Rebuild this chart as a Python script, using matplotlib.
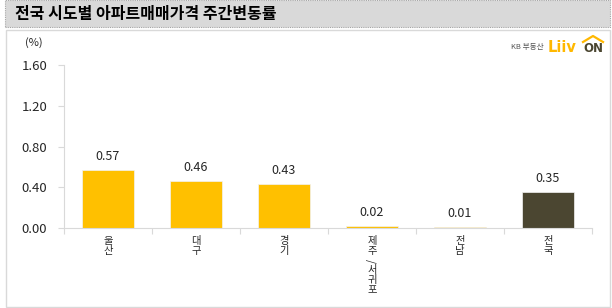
import matplotlib.pyplot as plt
from matplotlib.patches import Rectangle

plt.rcParams["font.family"] = ["Noto Sans CJK KR", "DejaVu Sans"]

# weekly change of apartment sale prices by region (%)
regions = ["울산", "대구", "경기", "제주/서귀포", "전남", "전국"]
changes = [0.57, 0.46, 0.43, 0.02, 0.01, 0.35]
bar_colors = ["#FFC000", "#FFC000", "#FFC000", "#FFC000", "#FFC000", "#4B4631"]
yticks = [0.0, 0.4, 0.8, 1.2, 1.6]

W, H = 612, 308
fig = plt.figure(figsize=(W / 100, H / 100), dpi=100)
fig.patch.set_facecolor("white")

# header band and chart panel (kept behind the axes)
fig.patches.append(Rectangle((5 / W, 1 - 27 / H), 605 / W, 27 / H, transform=fig.transFigure,
                             facecolor="#d9d9d9", edgecolor="#a6a6a6", linestyle=(0, (1, 1)),
                             linewidth=0.8, zorder=-2))
fig.patches.append(Rectangle((6 / W, 1 / H), 604 / W, 277 / H, transform=fig.transFigure,
                             facecolor="white", edgecolor="#d9d9d9", linewidth=1.0, zorder=-2))
fig.text(15 / W, 1 - 14 / H, "전국 시도별 아파트매매가격 주간변동률", fontsize=11.5,
         fontweight="bold", va="center", ha="left", color="black")

# logo
fig.text(511 / W, 1 - 47 / H, "KB 부동산", fontsize=5.5, va="center", ha="left", color="#555555")
fig.text(548 / W, 1 - 47 / H, "Liiv", fontsize=10.5, fontweight="bold", va="center", ha="left",
         color="#FFB800", family="DejaVu Sans")
fig.text(583 / W, 1 - 48 / H, "ON", fontsize=8.5, fontweight="bold", va="center", ha="left",
         color="#4B4631", family="DejaVu Sans")
fig.lines.append(plt.Line2D([583 / W, 593 / W, 603 / W], [1 - 42 / H, 1 - 36 / H, 1 - 42 / H],
                            transform=fig.transFigure, color="#FFB800", linewidth=1.6))

ax = fig.add_axes([64 / W, 80 / H, 528 / W, 163 / H])
ax.set_facecolor("none")
x = list(range(len(regions)))
ax.bar(x, changes, width=0.58, color=bar_colors, edgecolor="#f2f2f2", linewidth=0.5, zorder=2)

for xi, v in zip(x, changes):
    ax.annotate(f"{v:.2f}", (xi, v), xytext=(0, 5), textcoords="offset points",
                ha="center", va="bottom", fontsize=9, color="#262626")

ax.set_xlim(-0.5, len(regions) - 0.5)
ax.set_ylim(0, 1.6)
ax.set_yticks(yticks)
ax.set_yticklabels([f"{t:.2f}" for t in yticks], fontsize=9.5, color="#262626")
ax.tick_params(axis="y", length=4, color="#d9d9d9", width=0.8, pad=8)

# category boundaries as x ticks, labels written vertically one glyph at a time
ax.set_xticks([i + 0.5 for i in range(-1, len(regions))])
ax.set_xticklabels([])
ax.tick_params(axis="x", length=4, color="#d9d9d9", width=0.8)
for xi, name in zip(x, regions):
    for k, ch in enumerate(name):
        ax.annotate(ch, (xi, 0), xytext=(0, -9.5 - 7.0 * k), textcoords="offset points",
                    ha="center", va="center", fontsize=7.4, color="#262626",
                    rotation=90 if ch == "/" else 0, annotation_clip=False)

for side in ["top", "right"]:
    ax.spines[side].set_visible(False)
ax.spines["left"].set_color("#d9d9d9")
ax.spines["bottom"].set_color("#d9d9d9")

ax.text(-0.057, 1.135, "(%)", transform=ax.transAxes, fontsize=8, ha="center", va="center",
        color="#262626")

fig.savefig("out.png", dpi=100)
